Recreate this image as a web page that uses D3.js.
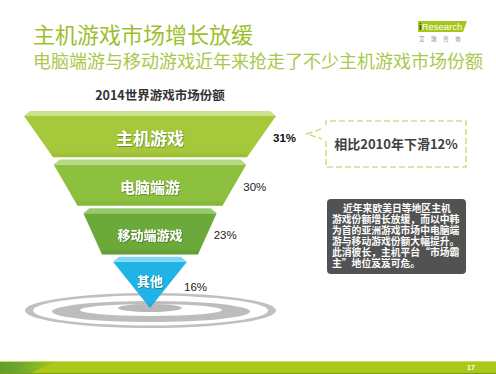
<!DOCTYPE html>
<html><head><meta charset="utf-8">
<script src="https://cdn.jsdelivr.net/npm/d3@7"></script>
<style>
html,body{margin:0;padding:0;background:#fff;}
svg{display:block;}
</style></head>
<body>
<script>
// ---- data ----
const pageTitle = "主机游戏市场增长放缓";
const pageSubtitle = "电脑端游与移动游戏近年来抢走了不少主机游戏市场份额";
const chartTitle = "2014世界游戏市场份额";
const categories = ["主机游戏", "电脑端游", "移动端游戏", "其他"];
const shares = [31, 30, 23, 16];
const noteText = "相比2010年下滑12%";
const commentLines = [
  "近年来欧美日等地区主机",
  "游戏份额增长放缓，而以中韩",
  "为首的亚洲游戏市场中电脑端",
  "游与移动游戏份额大幅提升。",
  "此消彼长，主机平台“市场霸",
  "主”地位岌岌可危。"
];
const pageNumber = "17";

// ---- drawing ----
const W = 496, H = 374;
const svg = d3.select("body").append("svg").attr("width", W).attr("height", H);
const defs = svg.append("defs");
const cjk = "'Noto Sans CJK SC','Noto Sans',sans-serif";
const latin = "'Liberation Sans',Arial,'Noto Sans CJK SC',sans-serif";

const faceColors = ["#a6c83b", "#8dc03f", "#6baa3a", "#1fb3e8"];
const faceDark   = ["#98bb31", "#7fb336", "#5f9c33", "#17a5da"];
const topColors  = ["#cde08a", "#b6d783", "#98c86f", "#86d6f3"];

faceColors.forEach((c, i) => {
  const g = defs.append("linearGradient").attr("id", "fg" + i)
    .attr("x1", 0).attr("y1", 0).attr("x2", 0).attr("y2", 1);
  g.append("stop").attr("offset", "0%").attr("stop-color", c);
  g.append("stop").attr("offset", "85%").attr("stop-color", c);
  g.append("stop").attr("offset", "100%").attr("stop-color", faceDark[i]);
});
const fl = defs.append("linearGradient").attr("id", "footL").attr("x1", 0).attr("x2", 1);
fl.append("stop").attr("offset", "0%").attr("stop-color", "#5f9f30");
fl.append("stop").attr("offset", "35%").attr("stop-color", "#6ea82c");
fl.append("stop").attr("offset", "100%").attr("stop-color", "#abc81a");
const sh = defs.append("filter").attr("id", "tsh").attr("x", "-20%").attr("y", "-40%").attr("width", "140%").attr("height", "180%");
sh.append("feDropShadow").attr("dx", 0.6).attr("dy", 0.8).attr("stdDeviation", 0.6)
  .attr("flood-color", "#2c4a10").attr("flood-opacity", 0.55);

// header
svg.append("text").attr("x", 33).attr("y", 43)
  .attr("font-family", cjk).attr("font-size", 22).attr("fill", "#9dbf2c")
  .text(pageTitle);
svg.append("text").attr("x", 33).attr("y", 68)
  .attr("font-family", cjk).attr("font-size", 18).attr("fill", "#a9c94a")
  .text(pageSubtitle);

// logo
svg.append("path").attr("d", "M418,21 L467,21 L463,32 L418,32 Z").attr("fill", "#a6c61c");
const logoT = svg.append("text").attr("x", 419).attr("y", 30).attr("font-family", latin)
  .attr("font-size", 9.5);
logoT.append("tspan").attr("fill", "#2f4a0c").attr("font-weight", "bold").text("i");
logoT.append("tspan").attr("fill", "#ffffff").text("Research");
svg.append("text").attr("x", 419).attr("y", 41).attr("font-family", cjk)
  .attr("font-size", 5.5).attr("fill", "#8a8a8a").attr("letter-spacing", 6.5)
  .text("艾瑞咨询");

// chart title
svg.append("text").attr("x", 160).attr("y", 99.5).attr("text-anchor", "middle")
  .attr("font-family", cjk).attr("font-size", 12.5).attr("font-weight", "bold")
  .attr("fill", "#333").text(chartTitle);

// target rings
const ringG = svg.append("g");
ringG.append("ellipse").attr("cx", 150.5).attr("cy", 310.5).attr("rx", 125.5).attr("ry", 17.5).attr("fill", "#c0c0c0");
ringG.append("ellipse").attr("cx", 150.5).attr("cy", 310.5).attr("rx", 117.5).attr("ry", 15).attr("fill", "#fff");
ringG.append("ellipse").attr("cx", 151).attr("cy", 311.5).attr("rx", 99).attr("ry", 10.5).attr("fill", "#bdbdbd");
ringG.append("ellipse").attr("cx", 151).attr("cy", 310).attr("rx", 71).attr("ry", 6).attr("fill", "#fff");
ringG.append("ellipse").attr("cx", 150).attr("cy", 308).attr("rx", 32).attr("ry", 4).attr("fill", "#b8b8b8");

// funnel
const cx = 150;
const y = d3.scaleBand().domain(categories).range([111, 303]).paddingInner(0.05);
const topHalf = d3.scaleLinear().domain([0, categories.length - 1]).range([126, 37]);
const botHalfS = d3.scaleLinear().domain([0, categories.length - 2]).range([97, 48]);
const botHalf = i => i < categories.length - 1 ? botHalfS(i) : 0;
const topFace = 5;

const layers = categories.map((c, i) => {
  const y0 = y(c);
  const y1 = y0 + y.bandwidth() + (i === categories.length - 1 ? 5 : 0);
  return { c, i, y0, y1, t: topHalf(i), b: botHalf(i), v: shares[i] };
});

const lg = svg.append("g").selectAll("g").data(layers).join("g");
lg.append("path")
  .attr("d", d => `M${cx - d.t},${d.y0 + topFace} L${cx + d.t},${d.y0 + topFace} L${cx + d.b},${d.y1} L${cx - d.b},${d.y1} Z`)
  .attr("fill", d => `url(#fg${d.i})`);
lg.append("path")
  .attr("d", d => `M${cx - d.t + 6},${d.y0} L${cx + d.t - 6},${d.y0} L${cx + d.t},${d.y0 + topFace} L${cx - d.t},${d.y0 + topFace} Z`)
  .attr("fill", d => topColors[d.i]);

const labelSize = [17, 15, 13, 13];
lg.append("text")
  .attr("x", cx)
  .attr("y", d => {
    const mid = (d.y0 + topFace + d.y1) / 2;
    return (d.i === categories.length - 1 ? mid - 4 : mid + 2);
  })
  .attr("dy", "0.36em")
  .attr("text-anchor", "middle")
  .attr("font-family", cjk).attr("font-weight", "bold")
  .attr("font-size", d => labelSize[d.i])
  .attr("fill", "#fff").attr("filter", "url(#tsh)")
  .text(d => d.c);

lg.append("text")
  .attr("x", d => cx + d.t - 3)
  .attr("y", d => (d.y0 + topFace + d.y1) / 2 + 1.5)
  .attr("dy", "0.36em")
  .attr("font-family", latin).attr("font-size", 11.5)
  .attr("font-weight", d => d.i === 0 ? "bold" : "normal")
  .attr("fill", d => d.i === 0 ? "#111" : "#222")
  .text(d => d.v + "%");

// callout
svg.append("path")
  .attr("d", "M326,141 L326,167 L466,167 L466,121 L326,121 L326,125 M321,129 L307,134 L322,139")
  .attr("fill", "none").attr("stroke", "#d2de85").attr("stroke-width", 1.6)
  .attr("stroke-dasharray", "6,3");
svg.append("text").attr("x", 396).attr("y", 144).attr("dy", "0.36em").attr("text-anchor", "middle")
  .attr("font-family", cjk).attr("font-size", 13).attr("font-weight", "bold").attr("fill", "#404040")
  .text(noteText);

// comment box
svg.append("rect").attr("x", 327).attr("y", 199).attr("width", 139).attr("height", 75)
  .attr("rx", 4).attr("fill", "#525252");
const cText = svg.append("text")
  .attr("font-family", cjk).attr("font-size", 9.8).attr("font-weight", "bold")
  .attr("fill", "#fff");
cText.selectAll("tspan").data(commentLines).join("tspan")
  .attr("x", (d, i) => i === 0 ? 343 : 332)
  .attr("y", (d, i) => 211.8 + i * 11.1)
  .text(d => d);

// footer
svg.append("rect").attr("x", 0).attr("y", 361).attr("width", W).attr("height", 13).attr("fill", "#abc81a");
svg.append("path").attr("d", "M0,361 L58,361 L28,374 L0,374 Z").attr("fill", "url(#footL)");
svg.append("rect").attr("x", 0).attr("y", 361).attr("width", W).attr("height", 1).attr("fill", "#c9dc6a");
svg.append("rect").attr("x", 0).attr("y", 373).attr("width", W).attr("height", 1).attr("fill", "#7f9a14");
svg.append("text").attr("x", 471).attr("y", 367.5).attr("dy", "0.36em").attr("text-anchor", "middle")
  .attr("font-family", latin).attr("font-size", 7).attr("font-weight", "bold").attr("fill", "#fff")
  .text(pageNumber);
</script>
</body></html>
